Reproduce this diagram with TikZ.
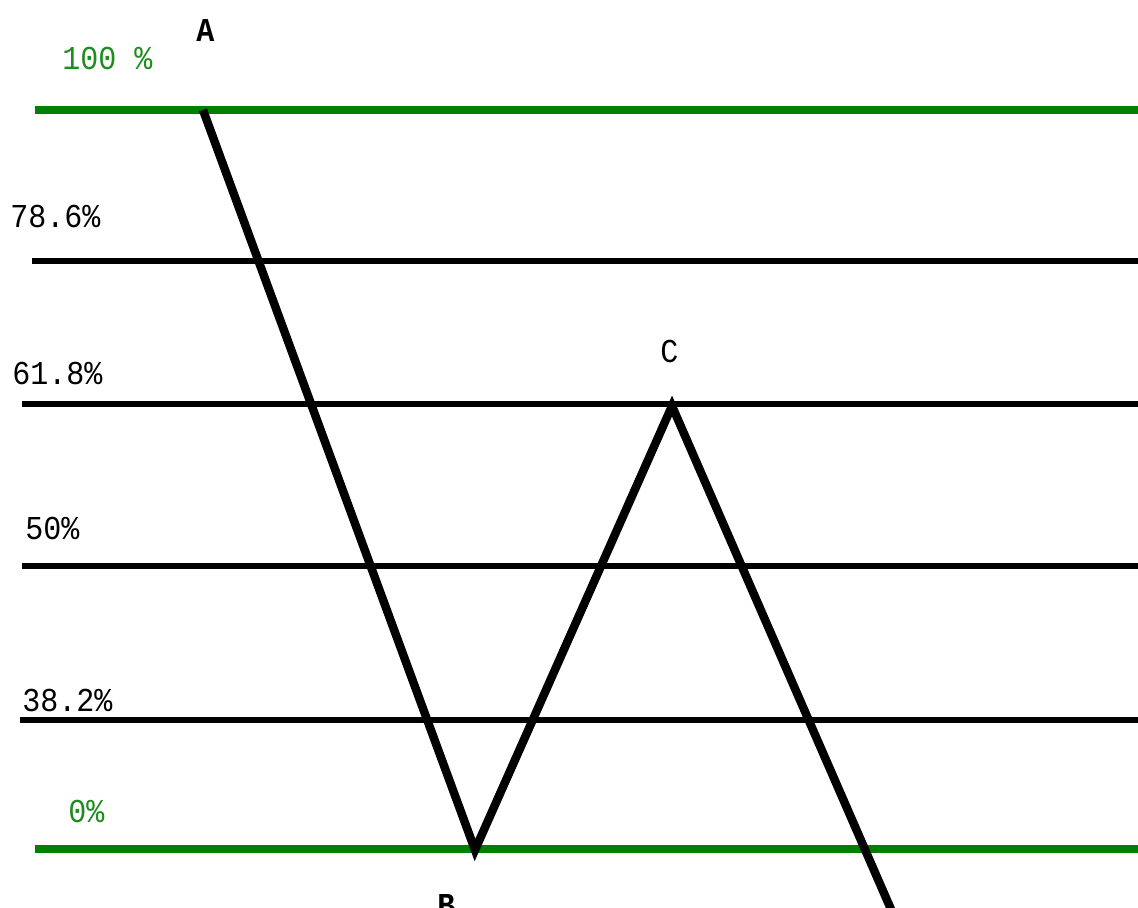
\documentclass[tikz,border=0pt]{standalone}
\usepackage{fontspec}
\setmonofont{Liberation Mono}
\definecolor{fibgreen}{RGB}{0,128,0}
\definecolor{labgreen}{RGB}{30,140,30}

\begin{document}
\begin{tikzpicture}[
    x=0.02cm, y=-0.02cm,
    font=\ttfamily\fontsize{19}{19}\selectfont,
    level/.style={line width=3pt, black},
    mainlevel/.style={line width=4.2pt, fibgreen},
    swing/.style={line width=4.8pt, black},
    lab/.style={anchor=base west, inner sep=0pt, xscale=0.9},
    pt/.style={anchor=base west, inner sep=0pt, xscale=0.9, font=\ttfamily\bfseries\fontsize{19}{19}\selectfont}
  ]
  \useasboundingbox (0,0) rectangle (1138,908);
  % retracement levels
  \foreach \name/\y/\x/\sty in {r100/110/35/mainlevel, r786/261/32/level,
      r618/404/22/level, r50/566/22/level, r382/720/20/level, r0/849/35/mainlevel} {
    \coordinate (\name w) at (\x,\y);
    \coordinate (\name e) at (1145,\y);
    \draw[\sty] (\name w) -- (\name e);
  }
  \node[lab, text=labgreen] (l100) at (62,70) {100 \%};
  \node[lab] (l786) at (10,228) {78.6\%};
  \node[lab] (l618) at (12,384) {61.8\%};
  \node[lab] (l50) at (25,539) {50\%};
  \node[lab] (l382) at (22,711) {38.2\%};
  \node[lab, text=labgreen] (l0) at (68,822) {0\%};
  % swing points
  \coordinate (A) at (203,110);
  \coordinate (B) at (475,850);
  \coordinate (C) at (672,406);
  \coordinate (D) at (900,930);
  \node[pt] (lA) at (196,42) {A};
  \node[pt] (lB) at (437,916) {B};
  \node[pt, font=\ttfamily\fontsize{19}{19}\selectfont] (lC) at (660,363) {C};
  \draw[swing] (A) -- (B) -- (C) -- (D);
\end{tikzpicture}
\end{document}
